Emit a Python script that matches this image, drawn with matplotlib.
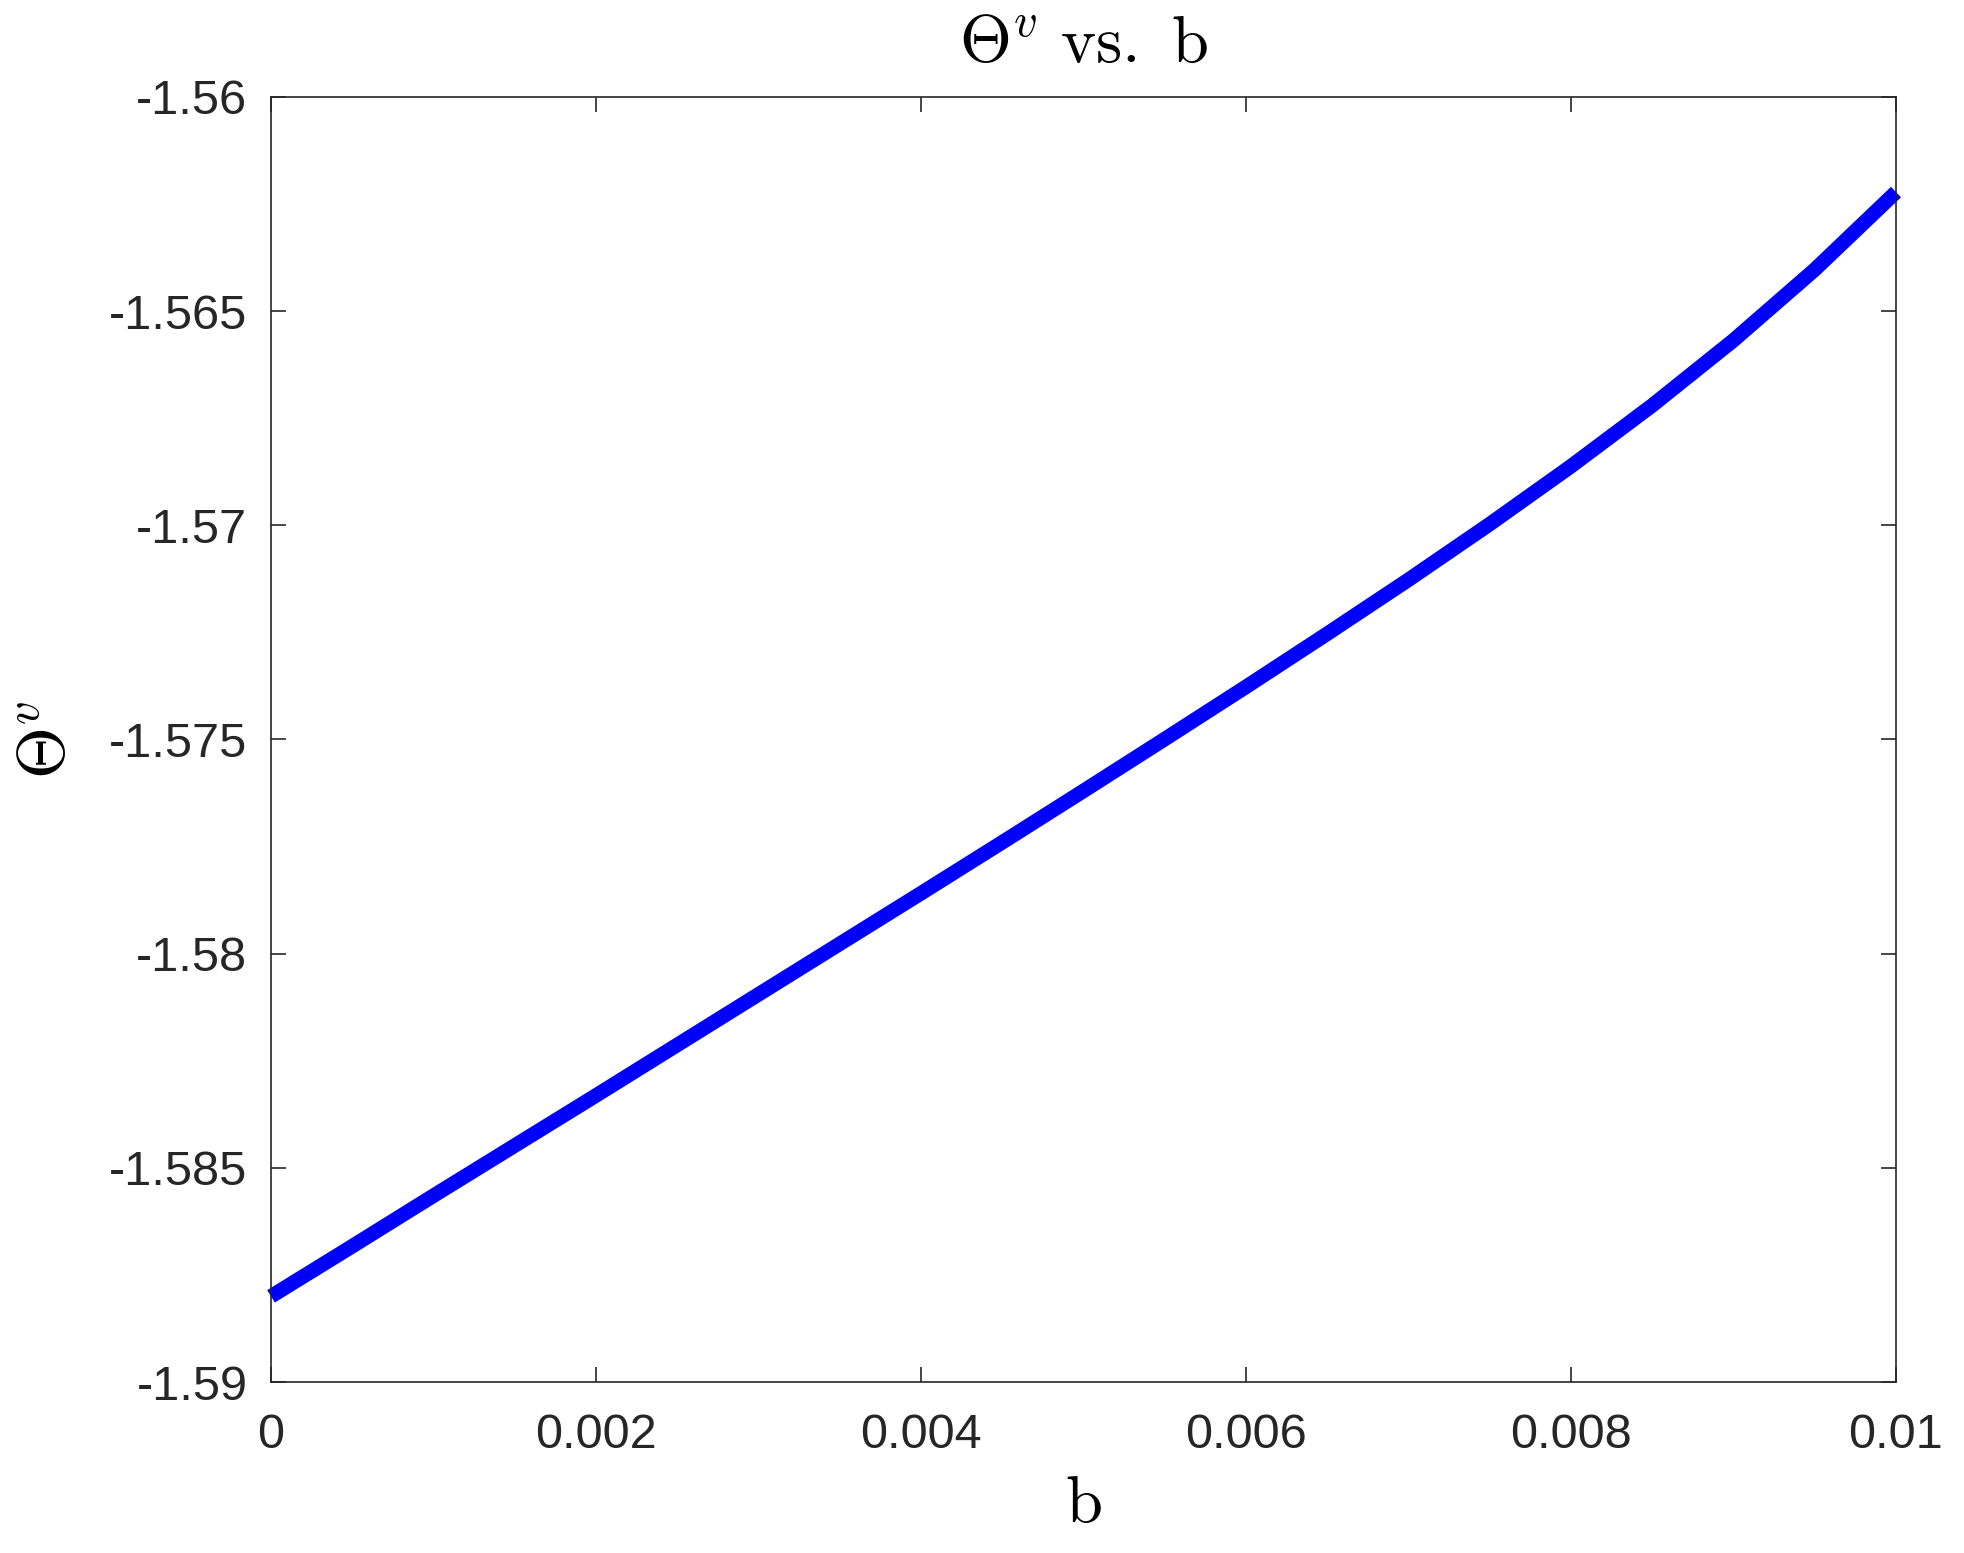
import matplotlib
matplotlib.use("Agg")
import matplotlib.pyplot as plt
import numpy as np

# values
b = [0.0, 0.0005, 0.001, 0.0015, 0.002, 0.0025, 0.003, 0.0035, 0.004, 0.0045,
     0.005, 0.0055, 0.006, 0.0065, 0.007, 0.0075, 0.008, 0.0085, 0.009, 0.0095, 0.01]
theta_v = [-1.58800, -1.58683, -1.58565, -1.58448, -1.58331, -1.58213, -1.58095,
           -1.57977, -1.57859, -1.57740, -1.57620, -1.57499, -1.57377, -1.57253,
           -1.57127, -1.56997, -1.56862, -1.56720, -1.56568, -1.56403, -1.56222]

xticks = [0, 0.002, 0.004, 0.006, 0.008, 0.01]
xticklabels = ['0', '0.002', '0.004', '0.006', '0.008', '0.01']
yticks = [-1.59, -1.585, -1.58, -1.575, -1.57, -1.565, -1.56]
yticklabels = ['-1.59', '-1.585', '-1.58', '-1.575', '-1.57', '-1.565', '-1.56']

plt.rcParams['mathtext.fontset'] = 'cm'
plt.rcParams['font.family'] = ['Liberation Sans', 'DejaVu Sans']

fig = plt.figure(figsize=(19.65, 15.53), dpi=100)
ax = fig.add_axes([271/1965, 1 - 1382/1553, (1896-271)/1965, (1382-97)/1553])

ax.plot(b, theta_v, color=(0, 0, 1), linewidth=10.5, solid_capstyle='butt',
        solid_joinstyle='round', clip_on=False)

ax.set_xlim(0, 0.01)
ax.set_ylim(-1.59, -1.56)
ax.set_xticks(xticks)
ax.set_xticklabels(xticklabels)
ax.set_yticks(yticks)
ax.set_yticklabels(yticklabels)

gray = '#262626'
for s in ax.spines.values():
    s.set_linewidth(1.2)
    s.set_color(gray)
ax.tick_params(direction='in', length=11, width=1.2, color=gray, labelcolor=gray,
               labelsize=35, top=True, right=True)
ax.tick_params(axis='x', pad=22)
ax.tick_params(axis='y', pad=17)

ax.set_title(r'$\Theta^v\ \mathrm{vs.\ b}$', fontsize=48, pad=25)
ax.set_xlabel(r'$\mathrm{b}$', fontsize=48, labelpad=12)
ax.set_ylabel(r'$\Theta^v$', fontsize=48, labelpad=22)

fig.savefig('out.png', dpi=100)
